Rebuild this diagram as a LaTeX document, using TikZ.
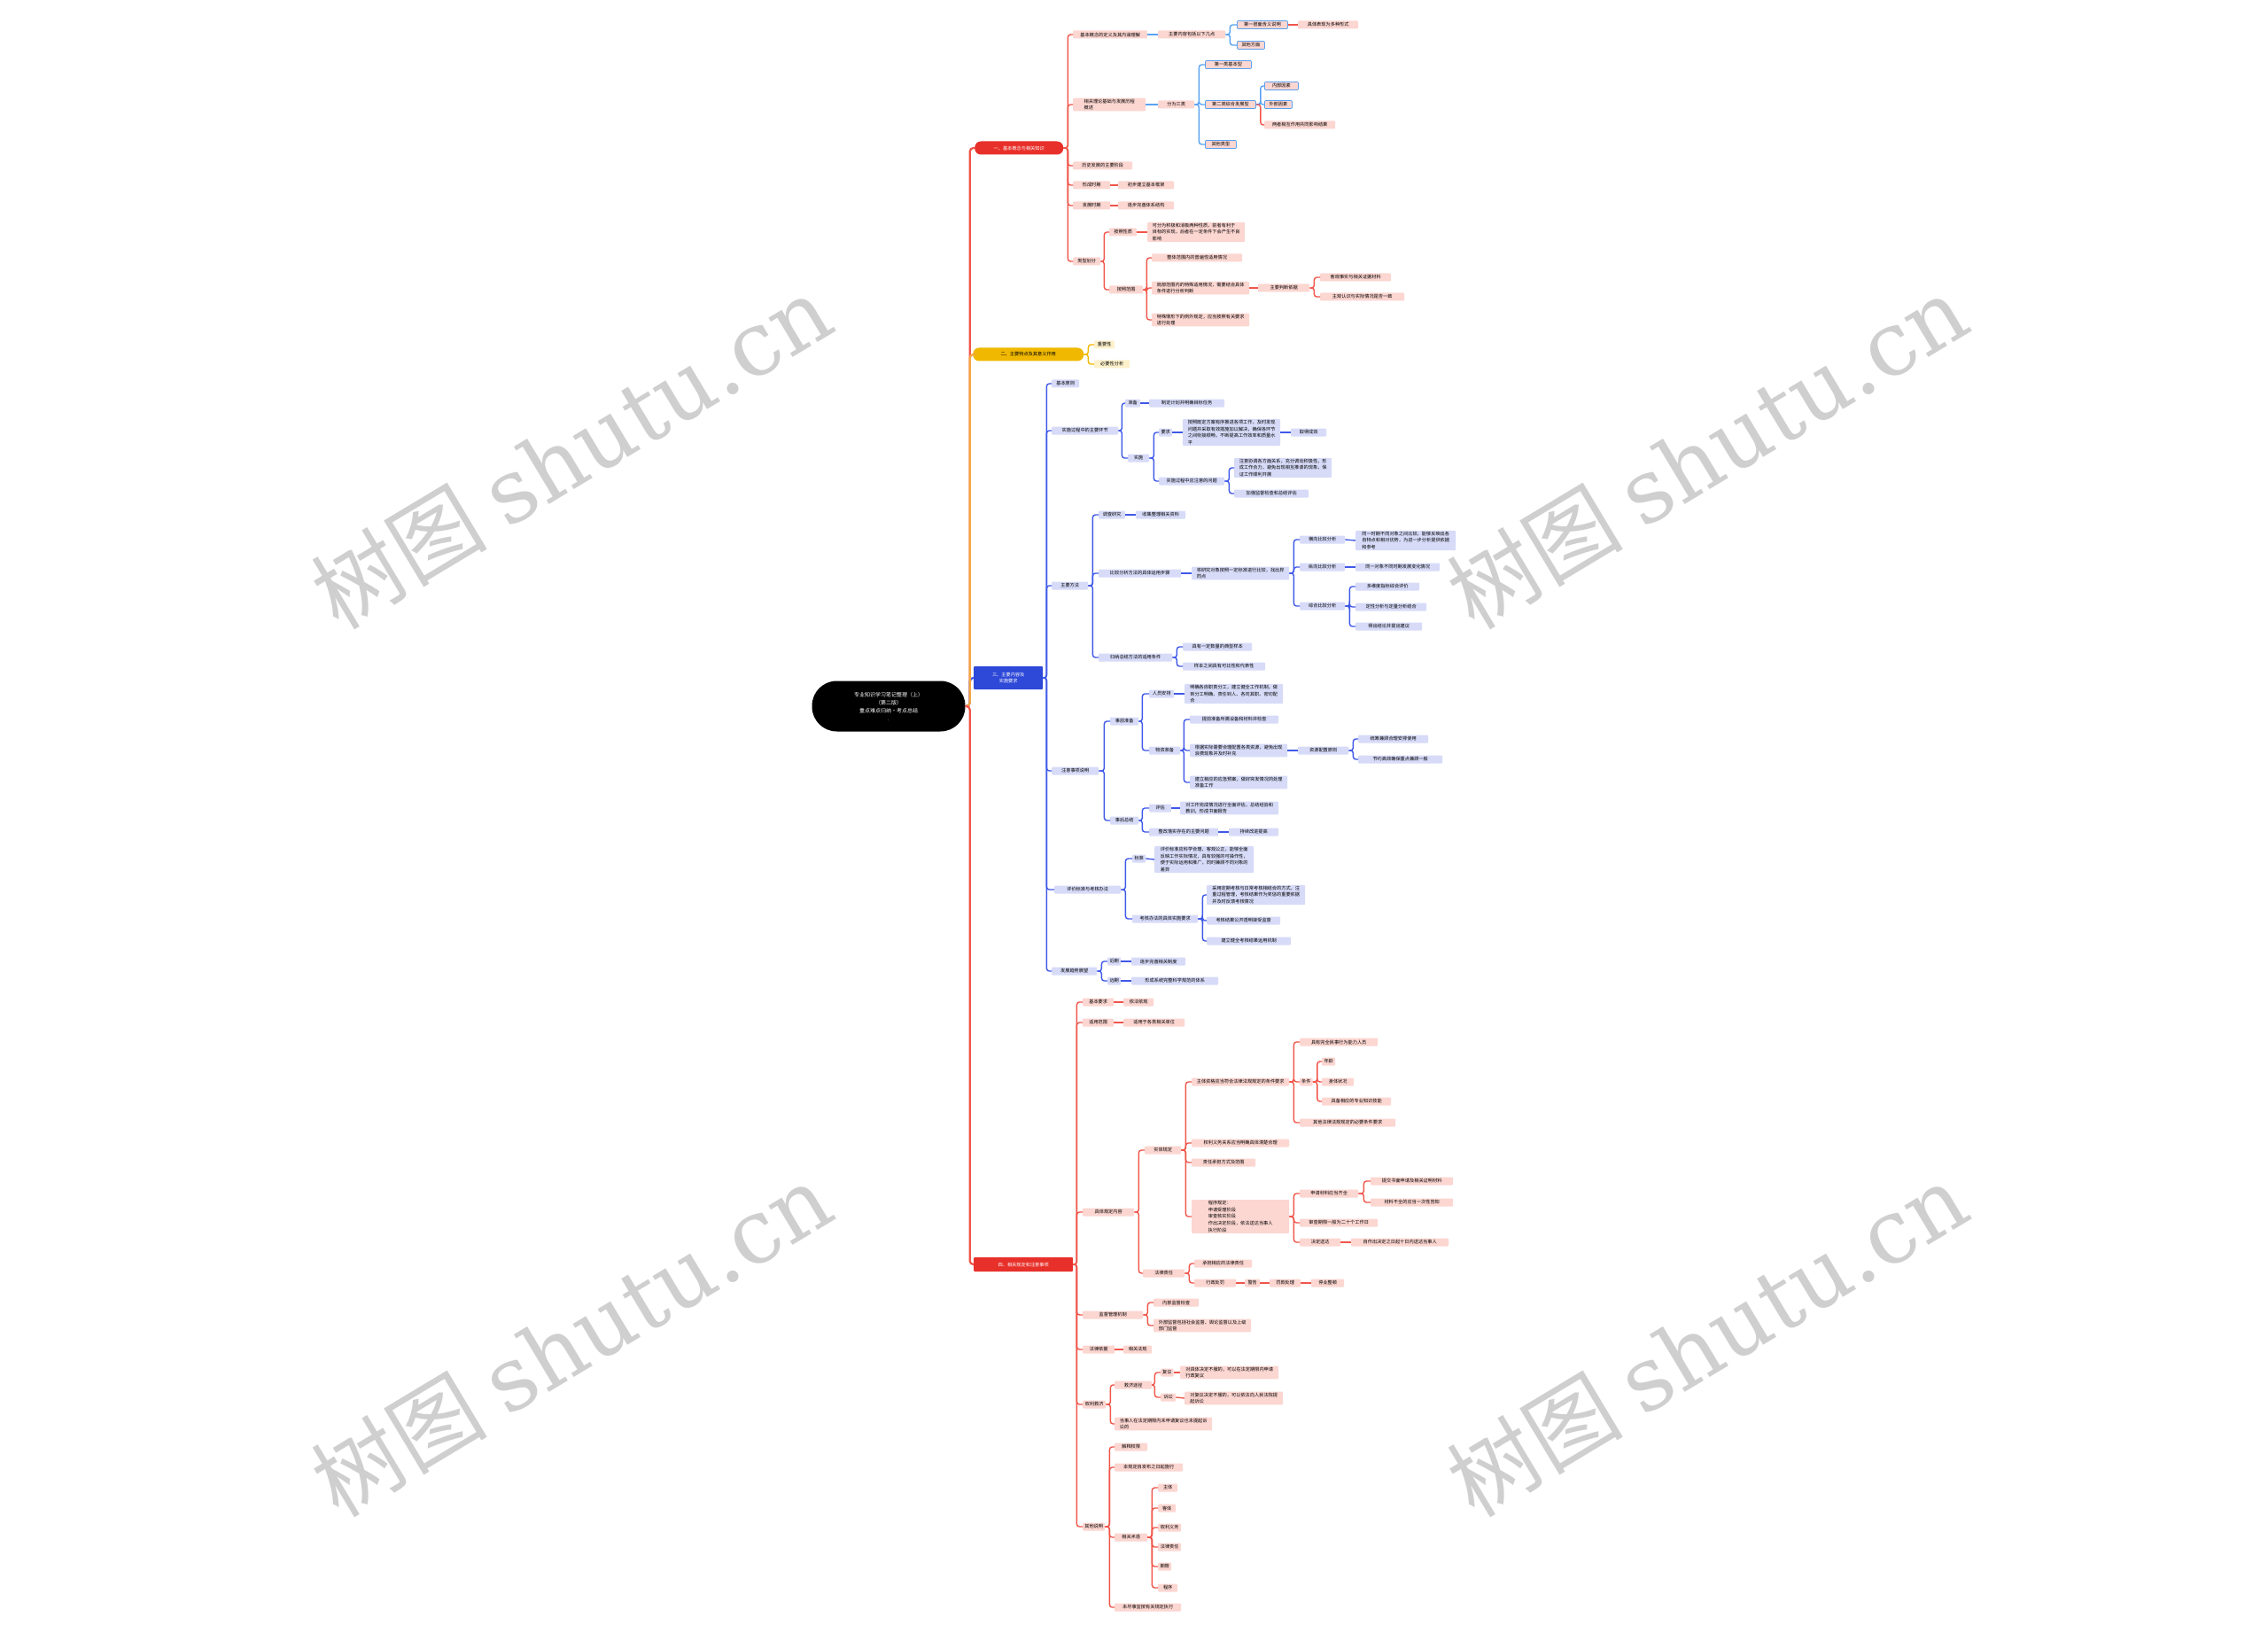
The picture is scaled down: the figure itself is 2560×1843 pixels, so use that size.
\documentclass[tikz,border=0pt]{standalone}
\usepackage{fontspec}
\usepackage{tikz}
\newfontfamily\cjk{Noto Sans CJK SC}
\newfontfamily\wmserif{DejaVu Serif}
\newcommand{\mapfont}{\cjk\fontsize{5.2}{7.6}\selectfont}
\definecolor{rline}{HTML}{F0554A}
\definecolor{rfill}{HTML}{FCD6D1}
\definecolor{rmain}{HTML}{E8302A}
\definecolor{bline}{HTML}{3F58E8}
\definecolor{bfill}{HTML}{D7DBF8}
\definecolor{bmain}{HTML}{2E48D8}
\definecolor{yline}{HTML}{F0B800}
\definecolor{yfill}{HTML}{FDF1CC}
\definecolor{oline}{HTML}{F5A540}
\definecolor{sline}{HTML}{5AA2F2}

\begin{document}
\begin{tikzpicture}[x=1pt, y=-1pt,
  topic/.style={fill=black, text=white, rounded corners=28pt, minimum width=173,
    minimum height=57, align=center, font=\cjk\fontsize{6}{9}\selectfont},
  branch/.style={anchor=west, text=white, minimum height=15, inner xsep=3pt,
    align=center, font=\mapfont},
  leafr/.style={anchor=west, fill=rfill, rounded corners=1pt, inner xsep=2pt,
    inner ysep=1.2pt, minimum height=9, align=left, font=\mapfont},
  leafs/.style={leafr, draw=sline, line width=0.8pt},
  leafb/.style={leafr, fill=bfill},
  leafy/.style={leafr, fill=yfill},
  trunk/.style={line width=2.2pt, rounded corners=4pt},
  linkr/.style={draw=rline, line width=1.4pt, rounded corners=3pt},
  links/.style={linkr, draw=sline},
  linkb/.style={linkr, draw=bline},
  linky/.style={linkr, draw=yline},
  wm/.style={text=black!19, rotate=31, font=\fontsize{100}{110}\selectfont}
]
\fill[white] (0,0) rectangle (2560,1843);
\useasboundingbox (0,0) rectangle (2560,1843);

% Root
\node[topic] (root) at (1003,797) {专业知识学习笔记整理（上）\\（第二版）\\重点难点归纳·考点总结\\.};

% Main branches
\node[branch, fill=rmain, rounded corners=7pt, minimum width=100] (B1) at (1100,167) {一、基本概念与相关知识};
\node[branch, fill=yline, text=black, rounded corners=7pt, minimum width=125] (B2) at (1098,400) {二、主要特点及其意义作用};
\node[branch, fill=bmain, rounded corners=1pt, minimum width=78, minimum height=26] (B3) at (1099,765) {三、主要内容及\\实施要求};
\node[branch, fill=rmain, rounded corners=1pt, minimum width=112, minimum height=16] (B4) at (1099,1427) {四、相关规定和注意事项};

\draw[trunk, rline] (root.east) -- ++(5,0) |- (B1.west);
\draw[trunk, bline] (root.east) -- ++(5,0) |- (B3.west);
\draw[trunk, oline] (root.east) -- ++(5,0) |- (B2.west);
\draw[trunk, rline] (root.east) -- ++(5,0) |- (B4.west);

% Branch 1
\node[leafr, minimum width=84] (c1) at (1211,39) {基本概念的定义及其内涵理解};
\node[leafr, minimum width=76] (c1a) at (1307,39) {主要内容包括以下几点};
\node[leafs, minimum width=57] (c1a1) at (1396,28) {第一层面含义说明};
\node[leafs, minimum width=31] (c1a2) at (1396,51) {其他方面};
\node[leafr, minimum width=68] (c1a1a) at (1465,28) {具体表现为多种形式};
\node[leafr, minimum width=82] (c2) at (1211,118) {相关理论基础与发展历程\\概述};
\node[leafr, minimum width=41] (c2a) at (1307,118) {分为三类};
\node[leafs, minimum width=52] (c2a1) at (1360,73) {第一类基本型};
\node[leafs, minimum width=57] (c2a2) at (1360,118) {第二类综合发展型};
\node[leafs, minimum width=35] (c2a3) at (1360,163) {其他类型};
\node[leafs, minimum width=38] (c2a2a) at (1427,97) {内部因素};
\node[leafs, minimum width=31] (c2a2b) at (1427,118) {外部因素};
\node[leafr, minimum width=80] (c2a2c) at (1427,141) {两者相互作用共同影响结果};
\node[leafr, minimum width=67] (c3) at (1211,187) {历史发展的主要阶段};
\node[leafr, minimum width=42] (c4) at (1211,209) {形成时期};
\node[leafr, minimum width=63] (c4a) at (1262,209) {初步建立基本框架};
\node[leafr, minimum width=42] (c5) at (1211,232) {发展时期};
\node[leafr, minimum width=63] (c5a) at (1262,232) {逐步完善体系结构};
\node[leafr, minimum width=31] (c6) at (1211,295) {类型划分};
\node[leafr, minimum width=31] (c6a) at (1252,262) {按照性质};
\node[leafr, minimum width=110] (c6a1) at (1295,262) {可分为积极和消极两种性质，前者有利于\\目标的实现，后者在一定条件下会产生不良\\影响};
\node[leafr, minimum width=38] (c6b) at (1252,327) {按照范围};
\node[leafr, minimum width=102] (c6b1) at (1300,291) {整体范围内的普遍性适用情况};
\node[leafr, minimum width=110] (c6b2) at (1300,325) {局部范围内的特殊适用情况，需要结合具体\\条件进行分析判断};
\node[leafr, minimum width=58] (c6b2a) at (1420,325) {主要判断依据};
\node[leafr, minimum width=80] (c6b2a1) at (1490,313) {客观事实与相关证据材料};
\node[leafr, minimum width=95] (c6b2a2) at (1490,335) {主观认识与实际情况是否一致};
\node[leafr, minimum width=110] (c6b3) at (1300,361) {特殊情形下的例外规定，应当按照有关要求\\进行处理};

\foreach \c in {c1,c2,c3,c4,c5,c6}
  \draw[linkr] (B1.east) -- ++(5,0) |- (\c.west);
\draw[links] (c1.east) -- (c1a.west);
\foreach \c in {c1a1,c1a2}
  \draw[links] (c1a.east) -- ++(5,0) |- (\c.west);
\draw[linkr] (c1a1.east) -- (c1a1a.west);
\draw[links] (c2.east) -- (c2a.west);
\foreach \c in {c2a1,c2a2,c2a3}
  \draw[links] (c2a.east) -- ++(5,0) |- (\c.west);
\foreach \c in {c2a2a,c2a2b}
  \draw[links] (c2a2.east) -- ++(5,0) |- (\c.west);
\draw[linkr] (c2a2.east) -- ++(5,0) |- (c2a2c.west);
\draw[linkr] (c4.east) -- (c4a.west);
\draw[linkr] (c5.east) -- (c5a.west);
\foreach \c in {c6a,c6b}
  \draw[linkr] (c6.east) -- ++(4,0) |- (\c.west);
\draw[linkr] (c6a.east) -- (c6a1.west);
\foreach \c in {c6b1,c6b2,c6b3}
  \draw[linkr] (c6b.east) -- ++(4,0) |- (\c.west);
\draw[linkr] (c6b2.east) -- (c6b2a.west);
\foreach \c in {c6b2a1,c6b2a2}
  \draw[linkr] (c6b2a.east) -- ++(5,0) |- (\c.west);

% Branch 2
\node[leafy, minimum width=23] (y2a) at (1235,389) {重要性};
\node[leafy, minimum width=40] (y2b) at (1235,411) {必要性分析};
\foreach \c in {y2a,y2b}
  \draw[linky] (B2.east) -- ++(5,0) |- (\c.west);

% Branch 3
\node[leafb, minimum width=31] (d1) at (1187,433) {基本原则};
\node[leafb, minimum width=75] (d2) at (1187,486) {实施过程中的主要环节};
\node[leafb, minimum width=17] (d2a) at (1270,455) {准备};
\node[leafb, minimum width=85] (d2a1) at (1297,455) {制定计划并明确目标任务};
\node[leafb, minimum width=24] (d2b) at (1273,517) {实施};
\node[leafb, minimum width=15] (d2b1) at (1308,488) {要求};
\node[leafb, minimum width=110] (d2b1a) at (1335,488) {按照既定方案有序推进各项工作，及时发现\\问题并采取有效措施加以解决，确保各环节\\之间衔接顺畅，不断提高工作效率和质量水\\平};
\node[leafb, minimum width=40] (d2b1b) at (1457,488) {取得成效};
\node[leafb, minimum width=74] (d2b2) at (1308,543) {实施过程中应注意的问题};
\node[leafb, minimum width=110] (d2b2a) at (1393,528) {注意协调各方面关系，充分调动积极性，形\\成工作合力，避免出现相互推诿的现象，保\\证工作顺利开展};
\node[leafb, minimum width=84] (d2b2b) at (1393,557) {加强监督检查和总结评估};
\node[leafb, minimum width=41] (d3) at (1187,661) {主要方法};
\node[leafb, minimum width=30] (d3a) at (1240,581) {调查研究};
\node[leafb, minimum width=56] (d3a1) at (1282,581) {收集整理相关资料};
\node[leafb, minimum width=93] (d3b) at (1240,647) {比较分析方法的具体运用步骤};
\node[leafb, minimum width=110] (d3b1) at (1345,647) {将研究对象按照一定标准进行比较，找出异\\同点};
\node[leafb, minimum width=51] (d3b1a) at (1467,609) {横向比较分析};
\node[leafb, minimum width=113] (d3b1a1) at (1530,610) {同一时期不同对象之间比较，能够反映出各\\自特点和相对优势，为进一步分析提供依据\\和参考};
\node[leafb, minimum width=51] (d3b1b) at (1467,640) {纵向比较分析};
\node[leafb, minimum width=95] (d3b1b1) at (1530,640) {同一对象不同时期发展变化情况};
\node[leafb, minimum width=51] (d3b1c) at (1467,684) {综合比较分析};
\node[leafb, minimum width=72] (d3b1c1) at (1530,662) {多维度指标综合评价};
\node[leafb, minimum width=80] (d3b1c2) at (1530,685) {定性分析与定量分析结合};
\node[leafb, minimum width=75] (d3b1c3) at (1530,707) {得出结论并提出建议};
\node[leafb, minimum width=83] (d3c) at (1240,742) {归纳总结方法的适用条件};
\node[leafb, minimum width=78] (d3c1) at (1335,730) {具有一定数量的典型样本};
\node[leafb, minimum width=93] (d3c2) at (1335,752) {样本之间具有可比性和代表性};
\node[leafb, minimum width=53] (d4) at (1187,870) {注意事项说明};
\node[leafb, minimum width=32] (d4a) at (1253,814) {事前准备};
\node[leafb, minimum width=28] (d4a1) at (1297,783) {人员安排};
\node[leafb, minimum width=111] (d4a1a) at (1337,783) {明确各自职责分工，建立健全工作机制，做\\到分工明确、责任到人、各司其职、密切配\\合};
\node[leafb, minimum width=35] (d4a2) at (1297,847) {物资准备};
\node[leafb, minimum width=100] (d4a2a) at (1343,812) {提前准备所需设备和材料并检查};
\node[leafb, minimum width=110] (d4a2b) at (1343,847) {根据实际需要合理配置各类资源，避免出现\\浪费现象并及时补充};
\node[leafb, minimum width=57] (d4a2b1) at (1465,847) {资源配置原则};
\node[leafb, minimum width=79] (d4a2b1a) at (1533,834) {统筹兼顾合理安排使用};
\node[leafb, minimum width=95] (d4a2b1b) at (1533,857) {节约高效确保重点兼顾一般};
\node[leafb, minimum width=110] (d4a2c) at (1343,883) {建立相应的应急预案，做好突发情况的处理\\准备工作};
\node[leafb, minimum width=32] (d4b) at (1253,926) {事后总结};
\node[leafb, minimum width=25] (d4b1) at (1297,912) {评估};
\node[leafb, minimum width=111] (d4b1a) at (1332,912) {对工作完成情况进行全面评估，总结经验和\\教训，形成书面报告};
\node[leafb, minimum width=78] (d4b2) at (1297,939) {整改落实存在的主要问题};
\node[leafb, minimum width=56] (d4b2a) at (1387,939) {持续改进提高};
\node[leafb, minimum width=75] (d5) at (1190,1004) {评价标准与考核办法};
\node[leafb, minimum width=15] (d5a) at (1278,969) {标准};
\node[leafb, minimum width=112] (d5a1) at (1303,970) {评价标准应科学合理、客观公正，能够全面\\反映工作实际情况，具有较强的可操作性，\\便于实际运用和推广，同时兼顾不同对象的\\差异};
\node[leafb, minimum width=74] (d5b) at (1278,1037) {考核办法的具体实施要求};
\node[leafb, minimum width=111] (d5b1) at (1362,1010) {采用定期考核与日常考核相结合的方式，注\\重过程管理，考核结果作为奖惩的重要依据\\并及时反馈考核情况};
\node[leafb, minimum width=83] (d5b2) at (1362,1039) {考核结果公开透明接受监督};
\node[leafb, minimum width=95] (d5b3) at (1362,1062) {建立健全考核结果运用机制};
\node[leafb, minimum width=51] (d6) at (1187,1096) {发展趋势展望};
\node[leafb, minimum width=15] (d6a) at (1250,1085) {近期};
\node[leafb, minimum width=61] (d6a1) at (1277,1085) {逐步完善相关制度};
\node[leafb, minimum width=15] (d6b) at (1250,1107) {远期};
\node[leafb, minimum width=98] (d6b1) at (1277,1107) {形成系统完整科学规范的体系};

\foreach \c in {d1,d2,d3,d4,d5,d6}
  \draw[linkb] (B3.east) -- ++(4,0) |- (\c.west);
\foreach \c in {d2a,d2b}
  \draw[linkb] (d2.east) -- ++(4,0) |- (\c.west);
\draw[linkb] (d2a.east) -- (d2a1.west);
\foreach \c in {d2b1,d2b2}
  \draw[linkb] (d2b.east) -- ++(5,0) |- (\c.west);
\draw[linkb] (d2b1.east) -- (d2b1a.west);
\draw[linkb] (d2b1a.east) -- (d2b1b.west);
\foreach \c in {d2b2a,d2b2b}
  \draw[linkb] (d2b2.east) -- ++(5,0) |- (\c.west);
\foreach \c in {d3a,d3b,d3c}
  \draw[linkb] (d3.east) -- ++(5,0) |- (\c.west);
\draw[linkb] (d3a.east) -- (d3a1.west);
\draw[linkb] (d3b.east) -- (d3b1.west);
\foreach \c in {d3b1a,d3b1b,d3b1c}
  \draw[linkb] (d3b1.east) -- ++(5,0) |- (\c.west);
\draw[linkb] (d3b1a.east) -- (d3b1a1.west);
\draw[linkb] (d3b1b.east) -- (d3b1b1.west);
\foreach \c in {d3b1c1,d3b1c2,d3b1c3}
  \draw[linkb] (d3b1c.east) -- ++(5,0) |- (\c.west);
\foreach \c in {d3c1,d3c2}
  \draw[linkb] (d3c.east) -- ++(5,0) |- (\c.west);
\foreach \c in {d4a,d4b}
  \draw[linkb] (d4.east) -- ++(6,0) |- (\c.west);
\foreach \c in {d4a1,d4a2}
  \draw[linkb] (d4a.east) -- ++(4,0) |- (\c.west);
\draw[linkb] (d4a1.east) -- (d4a1a.west);
\foreach \c in {d4a2a,d4a2b,d4a2c}
  \draw[linkb] (d4a2.east) -- ++(4,0) |- (\c.west);
\draw[linkb] (d4a2b.east) -- (d4a2b1.west);
\foreach \c in {d4a2b1a,d4a2b1b}
  \draw[linkb] (d4a2b1.east) -- ++(5,0) |- (\c.west);
\foreach \c in {d4b1,d4b2}
  \draw[linkb] (d4b.east) -- ++(4,0) |- (\c.west);
\draw[linkb] (d4b1.east) -- (d4b1a.west);
\draw[linkb] (d4b2.east) -- (d4b2a.west);
\foreach \c in {d5a,d5b}
  \draw[linkb] (d5.east) -- ++(5,0) |- (\c.west);
\draw[linkb] (d5a.east) -- (d5a1.west);
\foreach \c in {d5b1,d5b2,d5b3}
  \draw[linkb] (d5b.east) -- ++(5,0) |- (\c.west);
\foreach \c in {d6a,d6b}
  \draw[linkb] (d6.east) -- ++(5,0) |- (\c.west);
\draw[linkb] (d6a.east) -- (d6a1.west);
\draw[linkb] (d6b.east) -- (d6b1.west);

% Branch 4
\node[leafr, minimum width=35] (e1) at (1222,1131) {基本要求};
\node[leafr, minimum width=34] (e1a) at (1268,1131) {依法依规};
\node[leafr, minimum width=35] (e2) at (1222,1154) {适用范围};
\node[leafr, minimum width=69] (e2a) at (1268,1154) {适用于各类相关单位};
\node[leafr, minimum width=58] (e3) at (1222,1368) {具体规定内容};
\node[leafr, minimum width=41] (e3a) at (1292,1298) {实体规定};
\node[leafr, minimum width=110] (e3a1) at (1345,1221) {主体资格应当符合法律法规规定的条件要求};
\node[leafr, minimum width=88] (e3a1a) at (1467,1176) {具有完全民事行为能力人员};
\node[leafr, minimum width=13] (e3a1b) at (1467,1221) {条件};
\node[leafr, minimum width=15] (e3a1b1) at (1492,1198) {年龄};
\node[leafr, minimum width=36] (e3a1b2) at (1492,1221) {身体状况};
\node[leafr, minimum width=78] (e3a1b3) at (1492,1243) {具备相应的专业知识技能};
\node[leafr, minimum width=108] (e3a1c) at (1467,1267) {其他法律法规规定的必要条件要求};
\node[leafr, minimum width=110] (e3a2) at (1345,1290) {权利义务关系应当明确具体清楚合理};
\node[leafr, minimum width=72] (e3a3) at (1345,1312) {责任承担方式及范围};
\node[leafr, minimum width=110] (e3a4) at (1345,1373) {程序规定：\\申请受理阶段\\审查核实阶段\\作出决定阶段，依法送达当事人\\执行阶段};
\node[leafr, minimum width=66] (e3a4a) at (1467,1347) {申请材料应当齐全};
\node[leafr, minimum width=93] (e3a4a1) at (1547,1333) {提交书面申请及相关证明材料};
\node[leafr, minimum width=93] (e3a4a2) at (1547,1357) {材料不全的应当一次性告知};
\node[leafr, minimum width=88] (e3a4b) at (1467,1380) {审查期限一般为二十个工作日};
\node[leafr, minimum width=46] (e3a4c) at (1467,1402) {决定送达};
\node[leafr, minimum width=110] (e3a4c1) at (1525,1402) {自作出决定之日起十日内送达当事人};
\node[leafr, minimum width=47] (e3b) at (1290,1437) {法律责任};
\node[leafr, minimum width=65] (e3b1) at (1348,1426) {承担相应的法律责任};
\node[leafr, minimum width=47] (e3b2) at (1348,1448) {行政处罚};
\node[leafr, minimum width=17] (e3b2a) at (1405,1448) {警告};
\node[leafr, minimum width=35] (e3b2b) at (1433,1448) {罚款处理};
\node[leafr, minimum width=37] (e3b2c) at (1480,1448) {停业整顿};
\node[leafr, minimum width=68] (e4) at (1222,1484) {监督管理机制};
\node[leafr, minimum width=51] (e4a) at (1302,1470) {内部监督检查};
\node[leafr, minimum width=110] (e4b) at (1302,1496) {外部监督包括社会监督、舆论监督以及上级\\部门监督};
\node[leafr, minimum width=36] (e5) at (1222,1523) {法律依据};
\node[leafr, minimum width=32] (e5a) at (1268,1523) {相关法规};
\node[leafr, minimum width=26] (e6) at (1222,1585) {权利救济};
\node[leafr, minimum width=42] (e6a) at (1258,1563) {救济途径};
\node[leafr, minimum width=13] (e6a1) at (1310,1549) {复议};
\node[leafr, minimum width=111] (e6a1a) at (1332,1549) {对具体决定不服的，可以在法定期限内申请\\行政复议};
\node[leafr, minimum width=17] (e6a2) at (1310,1577) {诉讼};
\node[leafr, minimum width=111] (e6a2a) at (1337,1578) {对复议决定不服的，可以依法向人民法院提\\起诉讼};
\node[leafr, minimum width=110] (e6b) at (1258,1607) {当事人在法定期限内未申请复议也未提起诉\\讼的};
\node[leafr, minimum width=25] (e7) at (1222,1723) {其他说明};
\node[leafr, minimum width=37] (e7a) at (1258,1633) {解释权限};
\node[leafr, minimum width=77] (e7b) at (1258,1656) {本规定自发布之日起施行};
\node[leafr, minimum width=37] (e7c) at (1258,1735) {相关术语};
\node[leafr, minimum width=22] (e7c1) at (1307,1679) {主体};
\node[leafr, minimum width=20] (e7c2) at (1307,1702) {客体};
\node[leafr, minimum width=26] (e7c3) at (1307,1724) {权利义务};
\node[leafr, minimum width=26] (e7c4) at (1307,1746) {法律责任};
\node[leafr, minimum width=15] (e7c5) at (1307,1768) {期限};
\node[leafr, minimum width=22] (e7c6) at (1307,1792) {程序};
\node[leafr, minimum width=75] (e7d) at (1258,1814) {未尽事宜按有关规定执行};

\foreach \c in {e1,e2,e3,e4,e5,e6,e7}
  \draw[linkr] (B4.east) -- ++(4,0) |- (\c.west);
\draw[linkr] (e1.east) -- (e1a.west);
\draw[linkr] (e2.east) -- (e2a.west);
\foreach \c in {e3a,e3b}
  \draw[linkr] (e3.east) -- ++(5,0) |- (\c.west);
\foreach \c in {e3a1,e3a2,e3a3,e3a4}
  \draw[linkr] (e3a.east) -- ++(5,0) |- (\c.west);
\foreach \c in {e3a1a,e3a1b,e3a1c}
  \draw[linkr] (e3a1.east) -- ++(5,0) |- (\c.west);
\foreach \c in {e3a1b1,e3a1b2,e3a1b3}
  \draw[linkr] (e3a1b.east) -- ++(5,0) |- (\c.west);
\foreach \c in {e3a4a,e3a4b,e3a4c}
  \draw[linkr] (e3a4.east) -- ++(5,0) |- (\c.west);
\foreach \c in {e3a4a1,e3a4a2}
  \draw[linkr] (e3a4a.east) -- ++(6,0) |- (\c.west);
\draw[linkr] (e3a4c.east) -- (e3a4c1.west);
\foreach \c in {e3b1,e3b2}
  \draw[linkr] (e3b.east) -- ++(5,0) |- (\c.west);
\draw[linkr] (e3b2.east) -- (e3b2a.west);
\draw[linkr] (e3b2a.east) -- (e3b2b.west);
\draw[linkr] (e3b2b.east) -- (e3b2c.west);
\foreach \c in {e4a,e4b}
  \draw[linkr] (e4.east) -- ++(5,0) |- (\c.west);
\draw[linkr] (e5.east) -- (e5a.west);
\foreach \c in {e6a,e6b}
  \draw[linkr] (e6.east) -- ++(5,0) |- (\c.west);
\foreach \c in {e6a1,e6a2}
  \draw[linkr] (e6a.east) -- ++(3,0) |- (\c.west);
\draw[linkr] (e6a1.east) -- (e6a1a.west);
\draw[linkr] (e6a2.east) -- (e6a2a.west);
\foreach \c in {e7a,e7b,e7c,e7d}
  \draw[linkr] (e7.east) -- ++(5,0) |- (\c.west);
\foreach \c in {e7c1,e7c2,e7c3,e7c4,e7c5,e7c6}
  \draw[linkr] (e7c.east) -- ++(5,0) |- (\c.west);

% Watermarks
\node[wm] (wm1) at (645,510) {\cjk 树图 \wmserif shutu.cn};
\node[wm] (wm2) at (1927,510) {\cjk 树图 \wmserif shutu.cn};
\node[wm] (wm3) at (645,1512) {\cjk 树图 \wmserif shutu.cn};
\node[wm] (wm4) at (1927,1512) {\cjk 树图 \wmserif shutu.cn};

\end{tikzpicture}
\end{document}
